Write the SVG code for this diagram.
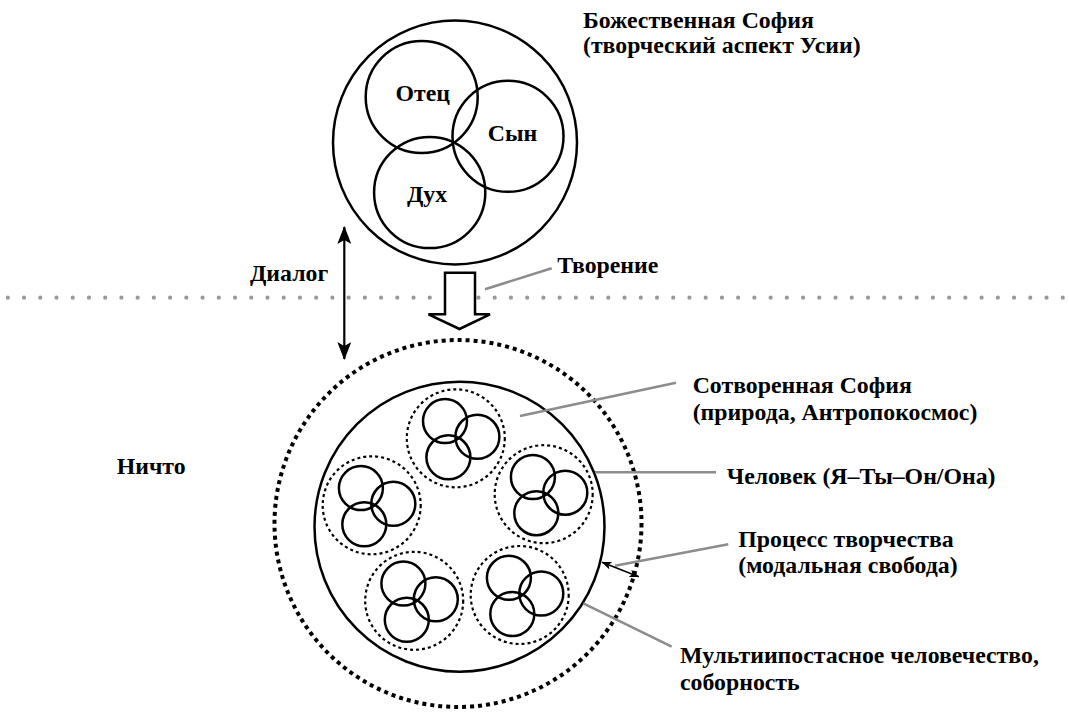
<svg xmlns="http://www.w3.org/2000/svg" xmlns:xlink="http://www.w3.org/1999/xlink" width="1069" height="714" viewBox="0 0 1069 714">
<style>
  text { font-family: "Liberation Serif", "Times New Roman", serif; font-weight: bold; font-size: 23.8px; fill: #000; }
  .c { fill: none; stroke: #000; stroke-width: 2.5; }
  .dot { fill: none; stroke: #000; stroke-width: 2.2; stroke-dasharray: 3 3; }
  .gray { stroke: #8c8c8c; stroke-width: 2.5; fill: none; }
  .mid { text-anchor: middle; }
</style>
<defs>
  <marker id="ah" viewBox="0 0 18 14" refX="17" refY="7" markerWidth="18" markerHeight="14" markerUnits="userSpaceOnUse" orient="auto-start-reverse">
    <path d="M0,0 L18,7 L0,14 L4,7 Z" fill="#000"/>
  </marker>
  <marker id="ahs" viewBox="0 0 10 8" refX="9.5" refY="4" markerWidth="10" markerHeight="8" markerUnits="userSpaceOnUse" orient="auto-start-reverse">
    <path d="M0,0 L10,4 L0,8 L2.5,4 Z" fill="#000"/>
  </marker>
  <g id="trinity">
    <circle class="dot" cx="0" cy="0" r="49"/>
    <circle class="c" cx="-10.8" cy="-17.2" r="22"/>
    <circle class="c" cx="21.6" cy="-1.5" r="22"/>
    <circle class="c" cx="-7.4" cy="19" r="22"/>
  </g>
</defs>
<rect width="1069" height="714" fill="#fff"/>

<line x1="7.8" y1="297.7" x2="1065" y2="297.7" stroke="#999" stroke-width="4.2" stroke-linecap="round" stroke-dasharray="0 16.23"/>

<g id="divine-sophia">
  <circle class="c" cx="455" cy="142.5" r="122"/>
  <text x="583" y="27.5">Божественная София</text>
  <text x="583" y="53">(творческий аспект Усии)</text>
</g>
<g id="father">
  <circle class="c" cx="421.7" cy="97" r="56"/>
  <text class="mid" x="422.7" y="101">Отец</text>
</g>
<g id="son">
  <circle class="c" cx="508" cy="136.3" r="55.5"/>
  <text class="mid" x="512.5" y="140.5">Сын</text>
</g>
<g id="spirit">
  <circle class="c" cx="429.7" cy="192.5" r="55.6"/>
  <text class="mid" x="427" y="201.5">Дух</text>
</g>

<g id="creation-arrow">
  <path d="M445,272.7 L475,272.7 L475,314.3 L490,314.3 L459.5,329 L428.5,314.3 L445,314.3 Z" fill="#fff" stroke="#000" stroke-width="2.5" stroke-linejoin="miter"/>
</g>

<g id="dialog-label"><text x="250" y="281">Диалог</text></g>
<g id="creation-label"><text x="557.3" y="273.3">Творение</text></g>
<g id="nothing-label"><text x="116.7" y="474.3">Ничто</text></g>

<g id="created-world">
  <circle cx="458" cy="523.5" r="183.5" fill="none" stroke="#000" stroke-width="4" stroke-dasharray="4 4"/>
</g>
<g id="humanity">
  <circle class="c" cx="459.5" cy="526.7" r="145"/>
</g>
<g id="person-1" transform="translate(455.8,438.3)"><use xlink:href="#trinity" href="#trinity"/></g>
<g id="person-2" transform="translate(371.7,505.3)"><use xlink:href="#trinity" href="#trinity"/></g>
<g id="person-3" transform="translate(543.7,494.2)"><use xlink:href="#trinity" href="#trinity"/></g>
<g id="person-4" transform="translate(414.2,600.8)"><use xlink:href="#trinity" href="#trinity"/></g>
<g id="person-5" transform="translate(519.7,595)"><use xlink:href="#trinity" href="#trinity"/></g>

<g id="label-created-sophia">
  <text x="692.7" y="393.3">Сотворенная София</text>
  <text x="692.7" y="420">(природа, Антропокосмос)</text>
</g>
<g id="label-person">
  <text x="726.7" y="484">Человек (Я–Ты–Он/Она)</text>
</g>
<g id="label-process">
  <text x="738.3" y="546.7">Процесс творчества</text>
  <text x="738.3" y="573.3">(модальная свобода)</text>
</g>
<g id="label-humanity">
  <text x="680" y="663.3">Мультиипостасное человечество,</text>
  <text x="680" y="690">соборность</text>
</g>

<g id="connectors">
  <line x1="344.3" y1="227" x2="344.3" y2="359" stroke="#000" stroke-width="2.2" marker-start="url(#ah)" marker-end="url(#ah)"/>
  <line class="gray" x1="485" y1="289.3" x2="551.7" y2="268.3"/>
  <line class="gray" x1="520" y1="416" x2="676" y2="382.7"/>
  <line class="gray" x1="595" y1="472.3" x2="716" y2="472.3"/>
  <line class="gray" x1="615" y1="565.7" x2="728.3" y2="544.3"/>
  <line class="gray" x1="583.3" y1="603.3" x2="671.7" y2="646.7"/>
  <line x1="602" y1="562.2" x2="638.8" y2="576.8" stroke="#000" stroke-width="1.5" marker-start="url(#ahs)" marker-end="url(#ahs)"/>
</g>
</svg>
